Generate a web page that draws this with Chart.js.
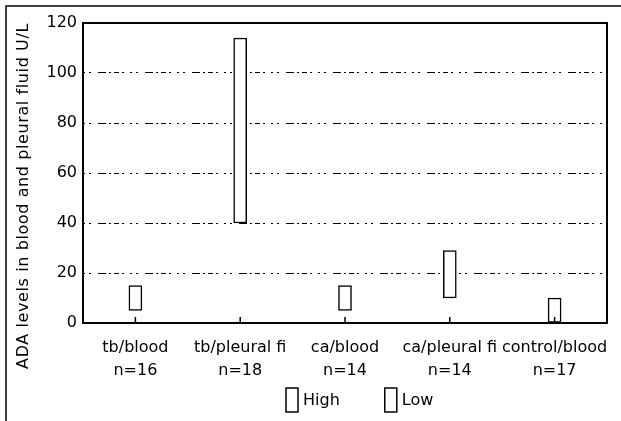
<!DOCTYPE html>
<html>
<head>
<meta charset="utf-8">
<title>ADA levels</title>
<script src="https://cdn.jsdelivr.net/npm/chart.js@4.4.1/dist/chart.umd.min.js"></script>
<style>
  html, body { margin: 0; padding: 0; background: #fff; }
  #wrap { width: 621px; height: 421px; }
</style>
</head>
<body>
<div id="wrap"><canvas id="adaChart" width="621" height="421"></canvas></div>
<script>
// Data
const groupNames = ['tb/blood', 'tb/pleural fi', 'ca/blood', 'ca/pleural fi', 'control/blood'];
const sampleSizes = [16, 18, 14, 14, 17];
const lowValues = [5, 40, 5, 10, 0];
const highValues = [15, 114, 15, 29, 10];
const yTicks = [0, 20, 40, 60, 80, 100, 120];
const legendLabels = ['High', 'Low'];
const yTitle = 'ADA levels in blood and pleural fluid U/L';

const FONT = '"DejaVu Sans", sans-serif';
Chart.defaults.font.family = FONT;
Chart.defaults.font.size = 16;
Chart.defaults.color = '#000';

const labels = groupNames.map((g, i) => [g, 'n=' + sampleSizes[i]]);
const ranges = lowValues.map((lo, i) => [lo, highValues[i]]);

// frame, inner ticks, axis title and legend
const extrasPlugin = {
  id: 'extras',
  beforeDraw(chart) {
    const ctx = chart.ctx;
    ctx.save();
    ctx.fillStyle = '#fff';
    ctx.fillRect(0, 0, chart.width, chart.height);
    ctx.strokeStyle = '#000';
    ctx.lineWidth = 1.5;
    ctx.beginPath();
    ctx.moveTo(6, chart.height);
    ctx.lineTo(6, 6);
    ctx.lineTo(chart.width, 6);
    ctx.stroke();
    ctx.restore();
  },
  afterDatasetsDraw(chart) {
    const { ctx, chartArea: a, scales: { x } } = chart;
    ctx.save();
    ctx.strokeStyle = '#000';
    ctx.lineWidth = 2;
    ctx.strokeRect(a.left, a.top, a.right - a.left, a.bottom - a.top);

    ctx.lineWidth = 1.5;
    x.ticks.forEach((t, i) => {
      const px = x.getPixelForTick(i);
      ctx.beginPath();
      ctx.moveTo(px, a.bottom);
      ctx.lineTo(px, a.bottom - 6);
      ctx.stroke();
    });

    // legend
    ctx.fillStyle = '#000';
    ctx.font = '16px ' + FONT;
    ctx.textBaseline = 'middle';
    ctx.textAlign = 'left';
    let lx = 286;
    legendLabels.forEach(txt => {
      ctx.fillStyle = '#fff';
      ctx.fillRect(lx, 388, 12, 24);
      ctx.lineWidth = 1.5;
      ctx.strokeRect(lx, 388, 12, 24);
      ctx.fillStyle = '#000';
      ctx.fillText(txt, lx + 17, 401);
      lx += 17 + ctx.measureText(txt).width + 45;
    });

    // y axis title, a little letter spaced like the bitmap font of the original
    ctx.letterSpacing = '0.6px';
    ctx.textAlign = 'center';
    ctx.translate(24, 196);
    ctx.rotate(-Math.PI / 2);
    ctx.fillText(yTitle, 0, 0);
    ctx.restore();
  }
};

new Chart(document.getElementById('adaChart'), {
  type: 'bar',
  data: {
    labels: labels,
    datasets: [{
      label: 'High/Low',
      data: ranges,
      backgroundColor: '#fff',
      borderColor: '#000',
      borderWidth: 1.5,
      borderSkipped: false,
      barThickness: 13
    }]
  },
  options: {
    responsive: false,
    animation: false,
    layout: { padding: { top: 23, left: 0, right: 14, bottom: 0 } },
    plugins: {
      legend: { display: false },
      tooltip: { enabled: false }
    },
    scales: {
      x: {
        grid: { display: false },
        border: { display: false },
        ticks: { padding: 5, maxRotation: 0, autoSkip: false, font: { size: 16, lineHeight: 1.45 } },
        afterFit(scale) { scale.height = 98; }
      },
      y: {
        min: yTicks[0],
        max: yTicks[yTicks.length - 1],
        afterBuildTicks(scale) { scale.ticks = yTicks.map(v => ({ value: v })); },
        grid: {
          drawTicks: false,
          lineWidth: 1,
          color: ctx => (ctx.tick && (ctx.tick.value === yTicks[0] || ctx.tick.value === yTicks[yTicks.length - 1])) ? 'rgba(0,0,0,0)' : '#000'
        },
        border: { display: false, dash: [2, 4, 2, 7, 8, 3, 2, 3, 5, 3, 2, 6] },
        ticks: { padding: 6, font: { size: 16 } },
        afterFit(scale) { scale.width = 83; }
      }
    }
  },
  plugins: [extrasPlugin]
});
</script>
</body>
</html>
